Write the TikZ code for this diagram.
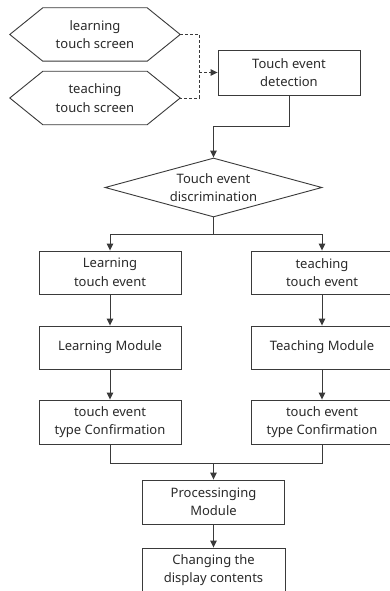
\documentclass[tikz,border=0pt]{standalone}
\usepackage{fontspec}
\setmainfont{Noto Sans}
\usetikzlibrary{shapes.geometric,arrows.meta,calc}
\definecolor{ln}{HTML}{3A3A3A}
\definecolor{tx}{HTML}{2A2A2A}
\tikzset{
  base/.style={font=\fontsize{13}{18.5}\selectfont, text=tx, align=center, inner sep=0pt},
  box/.style={base, draw=ln, line width=0.9pt, rectangle, minimum width=142pt, minimum height=43pt},
  hexa/.style={base, minimum width=170pt, minimum height=53pt},
  decide/.style={base, draw=ln, line width=0.9pt, diamond, aspect=3.68, minimum width=217pt, minimum height=59pt},
  conn/.style={draw=ln, line width=0.9pt},
  arr/.style={conn, -{Triangle[length=7pt,width=6.5pt]}},
}
\begin{document}
\begin{tikzpicture}[x=1pt,y=-1pt]
\useasboundingbox (0,0) rectangle (390,591);
\clip (0,0) rectangle (390,591);
\fill[white] (0,0) rectangle (390,591);
% source hexagons
\node[hexa] (h1) at (95,34.5) {learning\\touch screen};
\node[hexa] (h2) at (95,98) {teaching\\touch screen};
\foreach \h in {h1,h2}{
  \draw[conn] (\h.west) -- ([xshift=33pt]\h.north west) -- ([xshift=-33pt]\h.north east)
    -- (\h.east) -- ([xshift=-33pt]\h.south east) -- ([xshift=33pt]\h.south west) -- cycle;
}
\node[box, minimum height=45pt] (det) at (289,72.5) {Touch event\\detection};
\draw[conn, dashed, dash pattern=on 3pt off 2pt] (h1.east) -- ++(19,0) coordinate (j1) -- (j1 |- h2.east) -- (h2.east);
\draw[arr, dashed, dash pattern=on 3pt off 2pt] (j1 |- det.west) -- (det.west);
% discrimination
\node[decide] (dis) at (213.5,187.5) {Touch event\\discrimination};
\coordinate (c1) at (289,126);
\draw[arr] (det.south) -- (c1) -| (dis.north);
% branches
\node[box] (ev1) at (110,272.5) {Learning\\touch event};
\node[box] (ev2) at (322,272.5) {teaching\\touch event};
\coordinate (c2) at (213.5,234);
\draw[conn] (dis.south) -- (c2);
\draw[arr] (c2) -| (ev1.north);
\draw[arr] (c2) -| (ev2.north);
\node[box] (m1) at (110,347.5) {Learning Module};
\node[box] (m2) at (322,347.5) {Teaching Module};
\draw[arr] (ev1) -- (m1);
\draw[arr] (ev2) -- (m2);
\node[box, minimum height=44pt] (k1) at (110,422) {touch event\\type Confirmation};
\node[box, minimum height=44pt] (k2) at (322,422) {touch event\\type Confirmation};
\draw[arr] (m1) -- (k1);
\draw[arr] (m2) -- (k2);
% merge
\node[box, minimum height=44pt] (pr) at (213.5,502) {Processinging\\Module};
\coordinate (c3) at (213.5,463);
\draw[conn] (k1.south) |- (c3);
\draw[conn] (k2.south) |- (c3);
\draw[arr] (c3) -- (pr.north);
\node[box, minimum width=143pt, minimum height=44pt] (ch) at (213.5,570) {Changing the\\display contents};
\draw[arr] (pr) -- (ch);
\end{tikzpicture}
\end{document}
